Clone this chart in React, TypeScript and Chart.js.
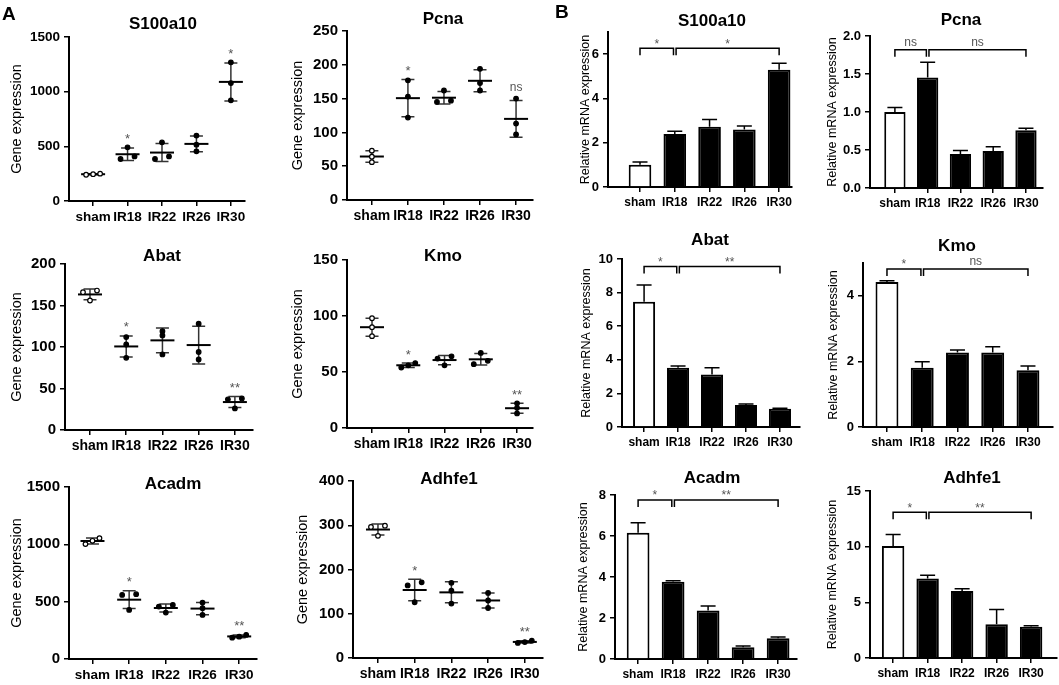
import React, { useEffect, useRef } from 'react'
import { Chart, registerables } from 'chart.js'

Chart.register(...registerables)

const FONT = '"Liberation Sans", Arial, Helvetica, sans-serif'
Chart.defaults.font.family = FONT
Chart.defaults.color = '#000'

const groups = ['sham', 'IR18', 'IR22', 'IR26', 'IR30']

// A: sequencing, three animals per group
const s100a10Seq = [[240, 245, 250], [491, 384, 408], [537, 384, 408], [598, 515, 454], [1268, 1079, 921]]
const pcnaSeq = [[73, 64, 56], [177, 153, 122], [162, 145, 147], [194, 173, 162], [150, 113, 97]]
const abatSeq = [[166, 168, 156], [112, 103, 87], [119, 114, 91], [128, 94, 85], [37, 38, 26]]
const kmoSeq = [[98, 90, 82], [54, 58, 56], [62, 64, 56], [67, 57, 60], [22, 18, 13]]
const acadmSeq = [[1031, 1054, 1002], [559, 565, 428], [472, 457, 405], [492, 443, 384], [186, 210, 195]]
const adhfe1Seq = [[299, 296, 276], [164, 171, 126], [170, 152, 123], [147, 130, 113], [34, 39, 36]]

const s100a10SeqSig = ['', '*', '', '', '*']
const pcnaSeqSig = ['', '*', '', '', 'ns']
const abatSeqSig = ['', '*', '', '', '**']
const kmoSeqSig = ['', '*', '', '', '**']
const acadmSeqSig = ['', '*', '', '', '**']
const adhfe1SeqSig = ['', '*', '', '', '**']

// B: qPCR, mean and SD per group
const s100a10Rel = [1.01, 2.39, 2.72, 2.6, 5.29]
const s100a10RelSd = [0.12, 0.13, 0.33, 0.15, 0.3]
const pcnaRel = [1.0, 1.455, 0.448, 0.488, 0.76]
const pcnaRelSd = [0.06, 0.2, 0.045, 0.055, 0.027]
const abatRel = [7.45, 3.53, 3.13, 1.31, 1.08]
const abatRelSd = [1.0, 0.1, 0.4, 0.06, 0.04]
const kmoRel = [4.42, 1.81, 2.27, 2.27, 1.73]
const kmoRelSd = [0.04, 0.18, 0.08, 0.18, 0.13]
const acadmRel = [6.16, 3.77, 2.37, 0.57, 1.01]
const acadmRelSd = [0.49, 0.05, 0.22, 0.06, 0.06]
const adhfe1Rel = [10.05, 7.13, 6.02, 3.04, 2.8]
const adhfe1RelSd = [1.05, 0.3, 0.21, 1.31, 0.09]

// sham vs IR18, IR18 vs IR30
const s100a10RelSig = ['*', '*']
const pcnaRelSig = ['ns', 'ns']
const abatRelSig = ['*', '**']
const kmoRelSig = ['*', 'ns']
const acadmRelSig = ['*', '**']
const adhfe1RelSig = ['*', '**']

const dotStyle = { yTitle: 'Gene expression', yTitleSize: 14.5, title: 17 }
const barStyle = { yTitle: 'Relative mRNA expression', yTitleSize: 12.5, title: 17, yTick: 13, xTick: 12 }

// box = canvas on the page, area = plot area (left, top, right, bottom)
const panels: any[] = [
  { kind: 'dots', name: 'S100a10', dots: s100a10Seq, sig: s100a10SeqSig, yMax: 1500, yStep: 500,
    box: [0, 0, 262, 228], area: [69, 37, 245, 201], xRange: [-0.7, 4.41], titleAt: [163, 23], yTitleX: 17, yTick: 13.5, xTick: 13.5, letter: ['A', 2, 20] },
  { kind: 'dots', name: 'Pcna', dots: pcnaSeq, sig: pcnaSeqSig, yMax: 250, yStep: 50,
    box: [262, 0, 286, 228], area: [347, 31, 533, 200], xRange: [-0.69, 4.47], titleAt: [443, 18], yTitleX: 298, yTick: 15, xTick: 14 },
  { kind: 'bars', name: 'S100a10', bars: s100a10Rel, err: s100a10RelSd, sig: s100a10RelSig, bracket: 6.27, yMax: 7, yStep: 2,
    box: [548, 0, 257, 228], area: [608, 32, 792, 187], xRange: [-0.92, 4.37], titleAt: [712, 20], yTitleX: 586, letter: ['B', 555, 18] },
  { kind: 'bars', name: 'Pcna', bars: pcnaRel, err: pcnaRelSd, sig: pcnaRelSig, bracket: 1.82, yMax: 2, yStep: 0.5, decimals: 1,
    box: [805, 0, 254, 228], area: [870, 36, 1043, 188], xRange: [-0.76, 4.52], titleAt: [961, 19], yTitleX: 833 },
  { kind: 'dots', name: 'Abat', dots: abatSeq, sig: abatSeqSig, yMax: 200, yStep: 50,
    box: [0, 228, 262, 227], area: [65, 264, 253, 430], xRange: [-0.69, 4.5], titleAt: [162, 255], yTitleX: 17, yTick: 15, xTick: 14 },
  { kind: 'dots', name: 'Kmo', dots: kmoSeq, sig: kmoSeqSig, yMax: 150, yStep: 50,
    box: [262, 228, 286, 227], area: [347, 260, 533, 428], xRange: [-0.69, 4.44], titleAt: [443, 255], yTitleX: 298, yTick: 15, xTick: 14 },
  { kind: 'bars', name: 'Abat', bars: abatRel, err: abatRelSd, sig: abatRelSig, bracket: 9.56, yMax: 10, yStep: 2,
    box: [548, 228, 257, 227], area: [622, 259, 800, 427], xRange: [-0.65, 4.59], titleAt: [710, 239], yTitleX: 587 },
  { kind: 'bars', name: 'Kmo', bars: kmoRel, err: kmoRelSd, sig: kmoRelSig, bracket: 4.82, yMax: 5, yStep: 2,
    box: [805, 228, 254, 227], area: [863, 263, 1053, 427], xRange: [-0.68, 4.71], titleAt: [957, 245], yTitleX: 834 },
  { kind: 'dots', name: 'Acadm', dots: acadmSeq, sig: acadmSeqSig, yMax: 1500, yStep: 500,
    box: [0, 455, 262, 230], area: [69, 487, 260, 659], xRange: [-0.64, 4.48], titleAt: [173, 483], yTitleX: 17, yTick: 15, xTick: 13.5 },
  { kind: 'dots', name: 'Adhfe1', dots: adhfe1Seq, sig: adhfe1SeqSig, yMax: 400, yStep: 100,
    box: [262, 455, 286, 230], area: [353, 481, 543, 658], xRange: [-0.68, 4.49], titleAt: [449, 478], yTitleX: 303, yTick: 15, xTick: 14 },
  { kind: 'bars', name: 'Acadm', bars: acadmRel, err: acadmRelSd, sig: acadmRelSig, bracket: 7.76, yMax: 8, yStep: 2,
    box: [548, 455, 257, 230], area: [615, 495, 797, 659], xRange: [-0.66, 4.54], titleAt: [712, 477], yTitleX: 584 },
  { kind: 'bars', name: 'Adhfe1', bars: adhfe1Rel, err: adhfe1RelSd, sig: adhfe1RelSig, bracket: 13.1, yMax: 15, yStep: 5,
    box: [805, 455, 254, 230], area: [870, 491, 1057, 658], xRange: [-0.67, 4.75], titleAt: [972, 477], yTitleX: 833 },
]

const mean = (a: number[]) => a.reduce((s, v) => s + v, 0) / a.length
const sd = (a: number[]) => {
  const m = mean(a)
  return Math.sqrt(a.reduce((s, v) => s + (v - m) ** 2, 0) / (a.length - 1))
}

// text whose ink is centred on y
function inkText(ctx: CanvasRenderingContext2D, text: string, x: number, y: number) {
  const m = ctx.measureText(text)
  ctx.textAlign = 'center'
  ctx.textBaseline = 'alphabetic'
  ctx.fillText(text, x, y + (m.actualBoundingBoxAscent - m.actualBoundingBoxDescent) / 2)
}

function scales(p: any) {
  const [bx, by, , bh] = p.box
  const [L, , , B] = p.area
  const st = p.kind === 'dots' ? dotStyle : barStyle
  const yTick = p.yTick ?? barStyle.yTick
  const xTick = p.xTick ?? barStyle.xTick
  const axisGrid = { drawOnChartArea: false, drawTicks: true, tickLength: 5, color: '#000', lineWidth: 1.5, offset: false }
  const axisBorder = { display: true, color: '#000', width: 2 }
  return {
    x: {
      type: 'linear',
      min: p.xRange[0],
      max: p.xRange[1],
      bounds: 'data',
      offset: false,
      afterFit: (s: any) => { s.height = by + bh - B },
      afterBuildTicks: (s: any) => { s.ticks = groups.map((_, i) => ({ value: i })) },
      ticks: {
        autoSkip: false,
        maxRotation: 0,
        padding: 3,
        color: '#000',
        font: { size: xTick, weight: 'bold' },
        callback: (v: any) => groups[v] ?? '',
      },
      grid: axisGrid,
      border: axisBorder,
    },
    y: {
      min: 0,
      max: p.yMax,
      afterFit: (s: any) => { s.width = L - bx },
      ticks: {
        stepSize: p.yStep,
        includeBounds: false,
        padding: 4,
        color: '#000',
        font: { size: yTick, weight: 'bold' },
        callback: (v: any) => (p.decimals ? Number(v).toFixed(p.decimals) : String(v)),
      },
      grid: axisGrid,
      border: axisBorder,
      title: {
        display: true,
        text: st.yTitle,
        color: '#000',
        font: { size: st.yTitleSize, weight: 'normal' },
        padding: { top: p.yTitleX - bx - st.yTitleSize * 0.6, bottom: 0 },
      },
    },
  }
}

function baseOptions(p: any) {
  const [bx, by, bw] = p.box
  const [, T, R] = p.area
  return {
    animation: false,
    responsive: false,
    maintainAspectRatio: false,
    layout: { padding: { left: 0, bottom: 0, top: T - by, right: bx + bw - R } },
    plugins: { legend: { display: false }, tooltip: { enabled: false } },
    scales: scales(p),
  }
}

function textPlugin(p: any) {
  return {
    id: 'panelText',
    afterDraw(chart: any) {
      const ctx = chart.ctx
      const [bx, by] = p.box
      ctx.save()
      ctx.fillStyle = '#000'
      ctx.font = `bold ${p.kind === 'dots' ? dotStyle.title : barStyle.title}px ${FONT}`
      inkText(ctx, p.name, p.titleAt[0] - bx, p.titleAt[1] - by)
      if (p.letter) {
        ctx.font = `bold 19px ${FONT}`
        ctx.textAlign = 'left'
        ctx.textBaseline = 'alphabetic'
        ctx.fillText(p.letter[0], p.letter[1] - bx, p.letter[2] - by)
      }
      ctx.restore()
    },
  }
}

// spread points of one group sideways when they overlap
const swarmPlugin = {
  id: 'swarm',
  afterDatasetsUpdate(chart: any) {
    const meta = chart.getDatasetMeta(0)
    const raw = chart.data.datasets[0].data
    const byGroup: Record<number, any[]> = {}
    meta.data.forEach((el: any, k: number) => {
      ;(byGroup[raw[k].x] ||= []).push(el)
    })
    Object.values(byGroup).forEach((els) => {
      els.sort((a, b) => b.y - a.y)
      let cluster = [els[0]]
      const flush = () => {
        const n = cluster.length
        cluster.forEach((el, j) => { el.x += n > 1 ? -7 + (14 * j) / (n - 1) : 0 })
      }
      for (let j = 1; j < els.length; j++) {
        if (Math.abs(els[j].y - cluster[cluster.length - 1].y) < 4) cluster.push(els[j])
        else {
          flush()
          cluster = [els[j]]
        }
      }
      flush()
    })
  },
}

function meanSdPlugin(p: any) {
  return {
    id: 'meanSd',
    beforeDatasetsDraw(chart: any) {
      const { ctx, scales: { x, y } } = chart
      ctx.save()
      p.dots.forEach((vals: number[], i: number) => {
        const m = mean(vals)
        const s = sd(vals)
        const cx = x.getPixelForValue(i)
        const yTop = y.getPixelForValue(m + s)
        const yBot = y.getPixelForValue(m - s)
        ctx.strokeStyle = '#333'
        ctx.lineWidth = 1.5
        ctx.beginPath()
        ctx.moveTo(cx, yTop)
        ctx.lineTo(cx, yBot)
        ctx.moveTo(cx - 6.5, yTop)
        ctx.lineTo(cx + 6.5, yTop)
        ctx.moveTo(cx - 6.5, yBot)
        ctx.lineTo(cx + 6.5, yBot)
        ctx.stroke()
        ctx.strokeStyle = '#000'
        ctx.lineWidth = 2
        ctx.beginPath()
        ctx.moveTo(cx - 12, y.getPixelForValue(m))
        ctx.lineTo(cx + 12, y.getPixelForValue(m))
        ctx.stroke()
        const mark = p.sig[i]
        if (mark) {
          const top = y.getPixelForValue(Math.max(m + s, ...vals))
          ctx.fillStyle = '#555'
          ctx.font = `${mark === 'ns' ? 12 : 13}px ${FONT}`
          inkText(ctx, mark, cx, top - 11)
        }
      })
      ctx.restore()
    },
  }
}

function errorBarPlugin(p: any) {
  return {
    id: 'errorBars',
    afterDatasetsDraw(chart: any) {
      const { ctx, scales: { x, y } } = chart
      ctx.save()
      ctx.strokeStyle = '#000'
      ctx.lineWidth = 1.5
      p.bars.forEach((v: number, i: number) => {
        const cx = x.getPixelForValue(i)
        const y0 = y.getPixelForValue(v)
        const y1 = y.getPixelForValue(v + p.err[i])
        ctx.beginPath()
        ctx.moveTo(cx, y0)
        ctx.lineTo(cx, y1)
        ctx.moveTo(cx - 7.5, y1)
        ctx.lineTo(cx + 7.5, y1)
        ctx.stroke()
      })
      // brackets: sham vs IR18, IR18 vs IR30
      const yb = y.getPixelForValue(p.bracket)
      const spans = [
        [x.getPixelForValue(0), x.getPixelForValue(1) - 1.3],
        [x.getPixelForValue(1) + 1.3, x.getPixelForValue(groups.length - 1)],
      ]
      spans.forEach(([a, b], k) => {
        ctx.strokeStyle = '#000'
        ctx.lineWidth = 1.5
        ctx.beginPath()
        ctx.moveTo(a, yb + 7)
        ctx.lineTo(a, yb)
        ctx.lineTo(b, yb)
        ctx.lineTo(b, yb + 7)
        ctx.stroke()
        ctx.fillStyle = '#555'
        ctx.font = `12px ${FONT}`
        inkText(ctx, p.sig[k], (a + b) / 2, yb - 7)
      })
      ctx.restore()
    },
  }
}

function dotConfig(p: any): any {
  const points = p.dots.flatMap((vals: number[], i: number) => vals.map((v) => ({ x: i, y: v })))
  const fills = p.dots.flatMap((vals: number[], i: number) => vals.map(() => (i === 0 ? '#fff' : '#000')))
  return {
    type: 'scatter',
    data: {
      datasets: [
        {
          data: points,
          pointRadius: 2.3,
          pointBackgroundColor: fills,
          pointBorderColor: '#000',
          pointBorderWidth: 1.2,
          clip: false,
        },
      ],
    },
    options: baseOptions(p),
    plugins: [swarmPlugin, meanSdPlugin(p), textPlugin(p)],
  }
}

function barConfig(p: any): any {
  return {
    type: 'bar',
    data: {
      datasets: [
        {
          data: p.bars.map((v: number, i: number) => ({ x: i, y: v })),
          backgroundColor: p.bars.map((_: number, i: number) => (i === 0 ? '#fff' : '#000')),
          borderColor: '#000',
          borderWidth: 2,
          barPercentage: 0.65,
          categoryPercentage: 1,
        },
      ],
    },
    options: baseOptions(p),
    plugins: [errorBarPlugin(p), textPlugin(p)],
  }
}

function Panel({ spec }: { spec: any }) {
  const ref = useRef<HTMLCanvasElement | null>(null)

  useEffect(() => {
    if (!ref.current) return
    const chart = new Chart(ref.current, spec.kind === 'dots' ? dotConfig(spec) : barConfig(spec))
    return () => chart.destroy()
  }, [spec])

  const [x, y, w, h] = spec.box
  return (
    <canvas
      ref={ref}
      width={w}
      height={h}
      style={{ position: 'absolute', left: x, top: y, width: w, height: h }}
    />
  )
}

export default function App() {
  return (
    <div style={{ position: 'absolute', left: 0, top: 0, width: 1059, height: 685, background: '#fff' }}>
      {panels.map((p, i) => (
        <Panel key={i} spec={p} />
      ))}
    </div>
  )
}
